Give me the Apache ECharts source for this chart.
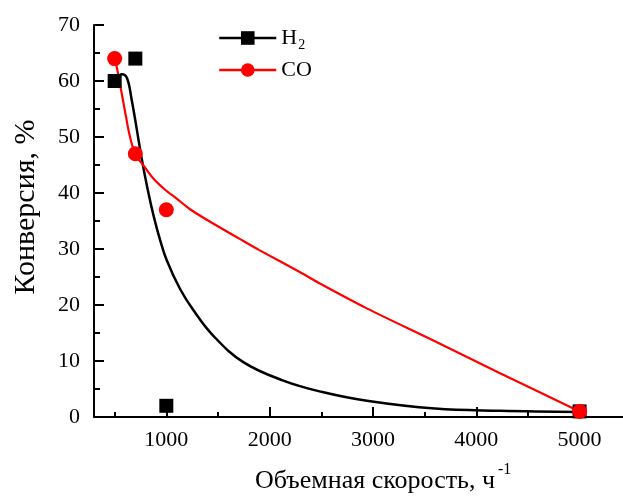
<!DOCTYPE html>
<html><head><meta charset="utf-8">
<script src="https://cdn.jsdelivr.net/npm/echarts@6/dist/echarts.min.js"></script>
<style>html,body{margin:0;padding:0;background:#fff}#c{width:623px;height:496px}</style>
</head><body><div id="c"></div>
<script>
// measured points
const h2Points = [[500,60],[700,64],[1000,2],[5000,1]];
const coPoints = [[500,64],[700,47],[1000,37],[5000,1]];
// fitted curves
const h2Curve = [[520,60.3],[570,61.2],[620,60.5],[665,56.6],[713,51.5],[760,46.3],[820,40.6],[880,35.7],[940,31.6],[1004,28.0],[1132,22.9],[1261,19.1],[1455,14.5],[1745,9.8],[2132,6.5],[2500,4.5],[2940,2.9],[3600,1.5],[4230,1.1],[5000,0.9]];
const coCurve = [[500,64],[530,61.6],[560,58.6],[600,54.6],[640,50.7],[680,47.9],[720,46.3],[780,44.9],[874,42.6],[1000,40.4],[1100,39.0],[1230,37.1],[1420,34.9],[1710,31.8],[1900,29.8],[2300,25.8],[2490,23.8],[2940,19.4],[3580,13.7],[4230,7.8],[5000,1]];
const xMajorTicks = [1000,2000,3000,4000,5000];
const xMinorTicks = [500,1500,2500,3500,4500];
const seriesNames = ['H2','CO'];
const xTitle = 'Объемная скорость, ч';
const xTitleSup = '-1';
const yTitle = 'Конверсия, %';

const FF = "'Liberation Serif', 'Times New Roman', serif";
const chart = echarts.init(document.getElementById('c'));
const axLine = {show:true, lineStyle:{color:'#000', width:2}};
chart.setOption({
  animation:false,
  backgroundColor:'#fff',
  textStyle:{fontFamily:FF},
  grid:{left:94, top:25, right:0, bottom:79},
  legend:{
    data:seriesNames, left:213, top:22, orient:'vertical',
    itemWidth:57, itemHeight:17, itemGap:7,
    lineStyle:{width:2.5},
    textStyle:{fontFamily:FF, fontSize:22, color:'#000',
      rich:{n:{fontFamily:FF, fontSize:22, color:'#000'}, s:{fontFamily:FF, fontSize:14, color:'#000', padding:[14,0,0,1]}}},
    formatter:function(n){return n==='H2' ? '{n|H}{s|2}' : '{n|'+n+'}';}
  },
  xAxis:[{
    type:'value', min:300, max:5420, position:'bottom',
    axisLine:axLine, splitLine:{show:false},
    axisTick:{show:true, inside:true, length:10, customValues:xMajorTicks, lineStyle:{color:'#000', width:2}},
    axisLabel:{customValues:xMajorTicks, fontFamily:FF, fontSize:22, color:'#000', margin:12,
      formatter:function(v){return String(v);}}
  },{
    type:'value', min:300, max:5420, position:'bottom',
    axisLine:{show:false}, splitLine:{show:false}, axisLabel:{show:false},
    axisTick:{show:true, inside:true, length:5, customValues:xMinorTicks, lineStyle:{color:'#000', width:2}}
  }],
  yAxis:{
    type:'value', min:0, max:70, interval:10,
    axisLine:axLine, splitLine:{show:false},
    axisTick:{show:true, inside:true, length:10, lineStyle:{color:'#000', width:2}},
    minorTick:{show:true, splitNumber:2, length:6, lineStyle:{color:'#000', width:2}},
    axisLabel:{fontFamily:FF, fontSize:22, color:'#000', margin:14}
  },
  graphic:[
    {type:'text', x:26, y:207, rotation:Math.PI/2,
     style:{text:yTitle, fontFamily:FF, fontSize:30, fill:'#000', align:'center', verticalAlign:'middle'}},
    {type:'text', x:255, y:481,
     style:{text:'{m|'+xTitle+'}{s|'+xTitleSup+'}', fill:'#000', align:'left', verticalAlign:'middle',
       rich:{m:{fontFamily:FF, fontSize:26, color:'#000'}, s:{fontFamily:FF, fontSize:16, color:'#000', padding:[0,0,22,3]}}}}
  ],
  series:[
    {name:'H2', type:'line', data:h2Curve, smooth:0.4, symbol:'rect', showSymbol:false,
     lineStyle:{color:'#000', width:2.5}, itemStyle:{color:'#000'}, z:2},
    {name:'CO', type:'line', data:coCurve, smooth:0.3, symbol:'circle', showSymbol:false,
     lineStyle:{color:'#ff0000', width:2.2}, itemStyle:{color:'#ff0000'}, z:3},
    {name:'H2', type:'scatter', data:h2Points, symbol:'rect', symbolSize:14, itemStyle:{color:'#000', opacity:1}, z:4},
    {name:'CO', type:'scatter', data:coPoints, symbol:'circle', symbolSize:15, itemStyle:{color:'#ff0000', opacity:1}, z:5}
  ]
});
</script></body></html>
